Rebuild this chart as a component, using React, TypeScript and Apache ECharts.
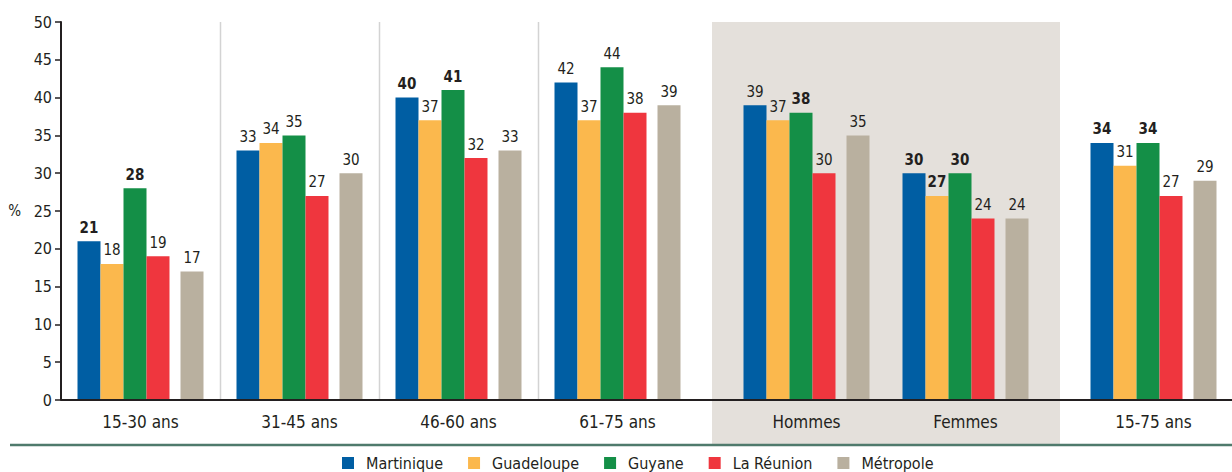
import React, { useEffect, useRef } from "react";
import * as echarts from "echarts";

const categories = ["15-30 ans", "31-45 ans", "46-60 ans", "61-75 ans", "Hommes", "Femmes", "15-75 ans"];
const seriesNames = ["Martinique", "Guadeloupe", "Guyane", "La Réunion", "Métropole"];
const martinique = [21, 33, 40, 42, 39, 30, 34];
const guadeloupe = [18, 34, 37, 37, 37, 27, 31];
const guyane = [28, 35, 41, 44, 38, 30, 34];
const reunion = [19, 27, 32, 38, 30, 24, 27];
const metropole = [17, 30, 33, 39, 35, 24, 29];
// significant values shown in bold
const boldMartinique = [1, 0, 1, 0, 0, 1, 1];
const boldGuadeloupe = [0, 0, 0, 0, 0, 1, 0];
const boldGuyane = [1, 0, 1, 0, 1, 1, 1];
const boldReunion = [0, 0, 0, 0, 0, 0, 0];
const boldMetropole = [0, 0, 0, 0, 0, 0, 0];
const yTicks = [0, 50, 5];

const colors = ["#005ea3", "#fbb84d", "#148f47", "#ef363e", "#b9b09f"];
const FONT = "'Liberation Sans Narrow', 'DejaVu Sans Condensed', 'Roboto Condensed', 'Arial Narrow', sans-serif";
const TXT = "#231f20";

// category index ranges of the three panels
const panels = [
  { from: 0, to: 4, left: 61, width: 636 },
  { from: 4, to: 6, left: 727, width: 318 },
  { from: 6, to: 7, left: 1075, width: 157 },
];

export default function App() {
  const ref = useRef<HTMLDivElement>(null);
  useEffect(() => {
    if (!ref.current) return;
    const chart = echarts.init(ref.current, undefined, { renderer: "svg" });
    const values = [martinique, guadeloupe, guyane, reunion, metropole];
    const bolds = [boldMartinique, boldGuadeloupe, boldGuyane, boldReunion, boldMetropole];

    const grids = panels.map((p) => ({ left: p.left, width: p.width, top: 22, height: 378 }));
    const xAxes = panels.map((p, gi) => ({
      type: "category",
      gridIndex: gi,
      data: categories.slice(p.from, p.to),
      axisLine: { show: false },
      axisTick: { show: false },
      axisLabel: { color: TXT, fontFamily: FONT, fontSize: 17, margin: 13 },
      splitLine: { show: false },
    }));
    const yAxes = panels.map((p, gi) => ({
      type: "value",
      gridIndex: gi,
      min: yTicks[0],
      max: yTicks[1],
      interval: yTicks[2],
      show: gi === 0,
      name: gi === 0 ? "%" : "",
      nameLocation: "middle",
      nameGap: 40,
      nameRotate: 0,
      nameTextStyle: { color: TXT, fontFamily: FONT, fontSize: 15 },
      axisLine: { show: true, lineStyle: { color: TXT, width: 2 } },
      axisTick: { show: true, length: 6, lineStyle: { color: TXT, width: 1.5 } },
      axisLabel: { color: TXT, fontFamily: FONT, fontSize: 16, margin: 9 },
      splitLine: { show: false },
    }));

    const series: any[] = [];
    panels.forEach((p, gi) => {
      seriesNames.forEach((name, si) => {
        if (si === 4) {
          series.push({
            type: "bar",
            name: "_gap",
            xAxisIndex: gi,
            yAxisIndex: gi,
            barWidth: 11,
            barGap: "0%",
            data: categories.slice(p.from, p.to).map(() => null),
          });
        }
        series.push({
          type: "bar",
          name,
          xAxisIndex: gi,
          yAxisIndex: gi,
          barWidth: 23,
          barGap: "0%",
          itemStyle: { color: colors[si] },
          label: {
            show: true,
            position: "top",
            distance: 6,
            color: TXT,
            fontFamily: FONT,
            fontSize: 15,
          },
          data: values[si].slice(p.from, p.to).map((v, k) => ({
            value: v,
            label: { fontWeight: bolds[si][p.from + k] ? "bold" : "normal" },
          })),
        });
      });
    });

    const baseGraphics: any[] = [
      {
        type: "rect",
        z: -10,
        shape: { x: 712, y: 22, width: 348, height: 422 },
        style: { fill: "#e4e0db" },
        silent: true,
      },
      {
        type: "line",
        z: 100,
        shape: { x1: 61, y1: 400, x2: 1232, y2: 400 },
        style: { stroke: TXT, lineWidth: 2 },
        silent: true,
      },
      {
        type: "line",
        z: 100,
        shape: { x1: 10, y1: 445, x2: 1232, y2: 445 },
        style: { stroke: "#4f7a6c", lineWidth: 2.5 },
        silent: true,
      },
    ];

    chart.setOption({
      animation: false,
      color: colors,
      grid: grids,
      xAxis: xAxes,
      yAxis: yAxes,
      legend: {
        data: seriesNames.map((n) => ({ name: n, icon: "rect" })),
        left: 337,
        top: 450,
        itemWidth: 12,
        itemHeight: 12,
        itemGap: 25,
        textStyle: { color: TXT, fontFamily: FONT, fontSize: 16, padding: [0, 0, 0, 7] },
      },
      graphic: baseGraphics,
      series,
    });

    // separators between the age groups of the first panel, placed midway between category centres
    const sepGraphics: any[] = [];
    const p0 = panels[0];
    const top = chart.convertToPixel({ yAxisIndex: 0 }, yTicks[1]) as number;
    const bottom = chart.convertToPixel({ yAxisIndex: 0 }, yTicks[0]) as number;
    for (let i = p0.from + 1; i < p0.to; i++) {
      const a = chart.convertToPixel({ xAxisIndex: 0 }, categories[i - 1]) as number;
      const b = chart.convertToPixel({ xAxisIndex: 0 }, categories[i]) as number;
      const x = Math.round((a + b) / 2) + 0.5;
      sepGraphics.push({
        type: "line",
        z: -5,
        shape: { x1: x, y1: top, x2: x, y2: bottom },
        style: { stroke: "#d3d3d3", lineWidth: 1.5 },
        silent: true,
      });
    }
    chart.setOption({ graphic: [...baseGraphics, ...sepGraphics] });

    return () => chart.dispose();
  }, []);
  return (
    <div
      ref={ref}
      style={{ position: "fixed", left: 0, top: 0, width: 1232, height: 472, background: "#fff" }}
    />
  );
}
